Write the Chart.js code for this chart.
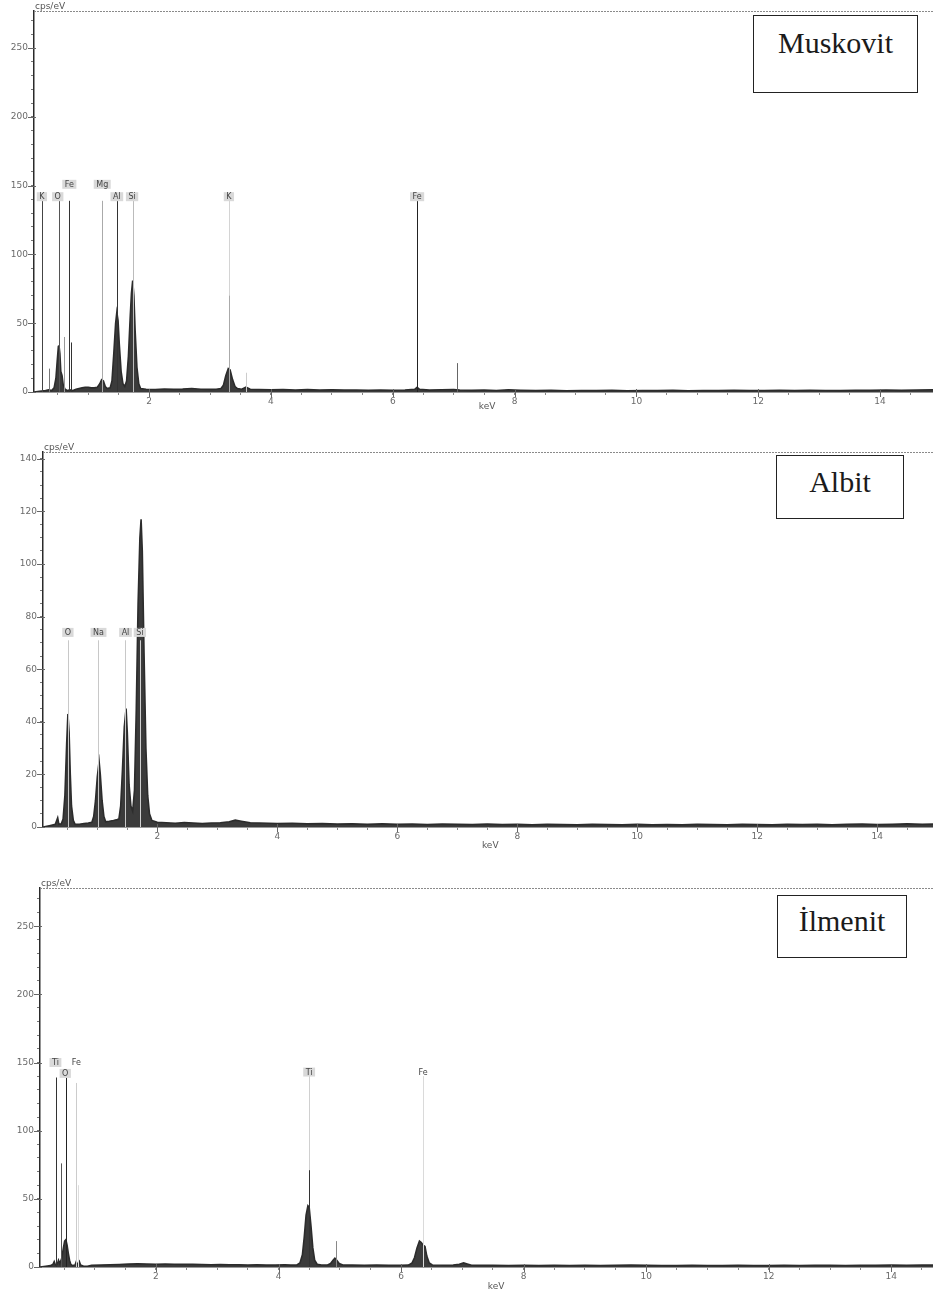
<!DOCTYPE html>
<html>
<head>
<meta charset="utf-8">
<script src="https://cdn.jsdelivr.net/npm/chart.js@4.4.1/dist/chart.umd.min.js"></script>
<style>
  html, body { margin: 0; padding: 0; background: #fff; }
  body { width: 933px; height: 1292px; position: relative; overflow: hidden; }
  .panel { position: absolute; left: 0; width: 933px; }
  .tag {
    position: absolute; box-sizing: border-box; border: 1.5px solid #222; background: #fff;
    font-family: 'Liberation Serif', 'Times New Roman', serif; font-size: 30px; line-height: 30px;
    color: #1b1b1b; text-align: center;
  }
</style>
</head>
<body>
<div class="panel" style="top:0;height:420px"><canvas id="musk"></canvas></div>
<div class="panel" style="top:420px;height:435px"><canvas id="albit"></canvas></div>
<div class="panel" style="top:860px;height:432px"><canvas id="ilm"></canvas></div>

<div class="tag" style="left:753px;top:15px;width:165px;height:78px;padding-top:12px">Muskovit</div>
<div class="tag" style="left:776px;top:455px;width:128px;height:64px;padding-top:11px">Albit</div>
<div class="tag" style="left:777px;top:895px;width:130px;height:63px;padding-top:10px">İlmenit</div>

<script>
// --- spectrum data: [keV, cps/eV] ---
const muskSpectrum = [
  [0.11, 0], [0.20, 0.5], [0.30, 1], [0.35, 1.5], [0.40, 1], [0.44, 3], [0.47, 10], [0.49, 22],
  [0.51, 33], [0.52, 34], [0.535, 28], [0.55, 15], [0.57, 12], [0.59, 5], [0.62, 2], [0.66, 1],
  [0.70, 1.5], [0.74, 1], [0.80, 2], [0.85, 2.5], [0.90, 3], [0.95, 3.5], [1.00, 3.5], [1.05, 3],
  [1.10, 3], [1.15, 3.5], [1.19, 6], [1.22, 9], [1.25, 8], [1.28, 4], [1.31, 2.5], [1.36, 3],
  [1.39, 8], [1.42, 28], [1.45, 50], [1.47, 58], [1.49, 52], [1.51, 35], [1.54, 15], [1.57, 6],
  [1.60, 4], [1.63, 8], [1.66, 26], [1.69, 55], [1.71, 72], [1.73, 81], [1.75, 70], [1.77, 45],
  [1.80, 18], [1.83, 6], [1.86, 2.5], [1.95, 2], [2.10, 1.8], [2.25, 2.2], [2.40, 1.9], [2.55, 2.1],
  [2.70, 2.5], [2.85, 2], [3.00, 1.9], [3.10, 2], [3.18, 2.5], [3.22, 5], [3.26, 12], [3.30, 17],
  [3.33, 16], [3.37, 9], [3.41, 4], [3.45, 2.5], [3.52, 2], [3.59, 3.5], [3.66, 2], [3.80, 1.8],
  [4.00, 1.6], [4.20, 1.8], [4.40, 1.5], [4.60, 1.7], [4.80, 1.4], [5.00, 1.6], [5.20, 1.4],
  [5.40, 1.5], [5.60, 1.3], [5.80, 1.5], [6.00, 1.3], [6.20, 1.5], [6.36, 2], [6.40, 3.5],
  [6.44, 2], [6.60, 1.4], [6.80, 1.6], [7.00, 1.8], [7.10, 1.5], [7.30, 1.2], [7.50, 1.4],
  [7.70, 1.1], [7.90, 1.6], [8.10, 1.3], [8.35, 1.0], [8.60, 1.2], [8.85, 0.9], [9.10, 1.1],
  [9.35, 1.0], [9.60, 1.2], [9.85, 0.9], [10.10, 1.1], [10.35, 1.0], [10.60, 1.2], [10.85, 0.9],
  [11.10, 1.1], [11.35, 1.0], [11.60, 1.2], [11.85, 1.0], [12.10, 1.1], [12.35, 1.3], [12.60, 1.0],
  [12.85, 1.2], [13.10, 1.1], [13.35, 1.0], [13.60, 1.3], [13.85, 1.2], [14.10, 1.4], [14.35, 1.2],
  [14.60, 1.5], [14.87, 1.6]
];

const albitSpectrum = [
  [0.095, 0], [0.20, 0.5], [0.30, 1], [0.34, 3.5], [0.36, 1], [0.40, 1.2], [0.43, 3], [0.46, 12],
  [0.49, 32], [0.51, 43], [0.53, 36], [0.55, 20], [0.57, 8], [0.60, 2.5], [0.63, 1], [0.70, 1],
  [0.78, 1.3], [0.85, 1.5], [0.91, 1.8], [0.94, 4], [0.97, 10], [1.00, 19], [1.03, 25], [1.05, 20],
  [1.08, 10], [1.11, 4], [1.14, 2], [1.20, 2.2], [1.27, 2.5], [1.33, 2.8], [1.36, 3], [1.39, 8],
  [1.42, 22], [1.45, 38], [1.48, 45], [1.50, 36], [1.53, 16], [1.56, 8], [1.59, 6], [1.62, 14],
  [1.65, 45], [1.68, 85], [1.71, 110], [1.73, 117], [1.75, 105], [1.78, 65], [1.81, 30], [1.84, 12],
  [1.87, 5], [1.91, 2.5], [2.00, 1.8], [2.15, 1.6], [2.30, 1.4], [2.45, 1.7], [2.60, 1.5],
  [2.75, 1.3], [2.90, 1.5], [3.05, 1.6], [3.20, 2.0], [3.30, 2.6], [3.40, 2.2], [3.55, 1.6],
  [3.70, 1.5], [3.85, 1.4], [4.00, 1.3], [4.25, 1.4], [4.50, 1.2], [4.75, 1.3], [5.00, 1.1],
  [5.25, 1.2], [5.50, 1.0], [5.75, 1.2], [6.00, 1.0], [6.25, 1.1], [6.50, 0.9], [6.75, 1.1],
  [7.00, 1.0], [7.25, 0.9], [7.50, 1.1], [7.75, 0.9], [8.00, 1.0], [8.25, 0.8], [8.50, 1.0],
  [8.75, 0.9], [9.00, 0.8], [9.25, 1.0], [9.50, 0.9], [9.75, 0.8], [10.00, 1.0], [10.25, 0.8],
  [10.50, 0.9], [10.75, 0.8], [11.00, 1.0], [11.25, 0.9], [11.50, 0.8], [11.75, 1.0], [12.00, 0.9],
  [12.25, 0.8], [12.50, 1.0], [12.75, 0.9], [13.00, 1.0], [13.25, 0.8], [13.50, 1.0], [13.75, 1.1],
  [14.00, 0.9], [14.25, 1.0], [14.50, 1.2], [14.75, 1.0], [14.93, 1.1]
];

const ilmSpectrum = [
  [0.108, 0], [0.20, 0.5], [0.28, 1], [0.32, 2], [0.34, 4], [0.36, 1.5], [0.39, 2], [0.41, 5],
  [0.43, 2.5], [0.46, 6], [0.49, 14], [0.51, 19], [0.53, 20], [0.55, 16], [0.57, 10], [0.59, 5],
  [0.61, 2], [0.64, 1], [0.68, 1.5], [0.70, 4], [0.72, 1.5], [0.75, 4], [0.77, 1.5], [0.82, 0.5],
  [0.88, 0.6], [0.95, 1.2], [1.10, 1.4], [1.25, 1.6], [1.40, 1.8], [1.55, 2.1], [1.70, 2.3],
  [1.85, 2.2], [2.00, 2.0], [2.15, 2.2], [2.30, 2.0], [2.45, 1.9], [2.60, 2.0], [2.75, 1.8],
  [2.90, 1.7], [3.05, 1.8], [3.20, 1.6], [3.35, 1.7], [3.50, 1.5], [3.65, 1.6], [3.80, 1.4],
  [3.95, 1.5], [4.10, 1.6], [4.20, 1.4], [4.30, 1.5], [4.35, 3], [4.39, 9], [4.42, 22], [4.45, 38],
  [4.48, 45], [4.50, 44], [4.53, 30], [4.56, 14], [4.59, 5], [4.63, 2], [4.70, 1.5], [4.80, 1.5],
  [4.85, 2.5], [4.89, 5], [4.92, 6.5], [4.95, 5], [4.99, 2.5], [5.05, 1.5], [5.20, 1.4],
  [5.40, 1.3], [5.60, 1.4], [5.80, 1.2], [6.00, 1.3], [6.12, 1.4], [6.18, 3], [6.22, 7], [6.26, 14],
  [6.30, 19], [6.33, 18], [6.36, 16], [6.39, 15], [6.42, 8], [6.46, 3], [6.51, 1.5], [6.70, 1.3],
  [6.85, 1.4], [6.95, 2], [7.02, 3], [7.08, 2.2], [7.15, 1.3], [7.30, 1.2], [7.50, 1.3], [7.75, 1.1],
  [8.00, 1.2], [8.25, 1.0], [8.50, 1.2], [8.75, 1.1], [9.00, 1.3], [9.25, 1.1], [9.50, 1.2],
  [9.75, 1.4], [10.00, 1.2], [10.25, 1.1], [10.50, 1.0], [10.75, 1.2], [11.00, 1.1], [11.25, 1.0],
  [11.50, 1.2], [11.75, 1.1], [12.00, 1.0], [12.25, 1.2], [12.50, 1.1], [12.75, 1.3], [13.00, 1.2],
  [13.25, 1.1], [13.50, 1.3], [13.75, 1.2], [14.00, 1.4], [14.25, 1.3], [14.50, 1.5], [14.68, 1.4]
];

// element line markers: energy (keV), height (cps/eV), stroke
const muskLineE    = [0.24, 0.35, 0.52, 0.60, 0.69, 0.71, 1.23, 1.47, 1.73, 3.31, 3.31, 3.59, 6.40, 7.05];
const muskLineTop  = [139, 17, 139, 40, 139, 36, 139, 139, 139, 139, 70, 14, 139, 21];
const muskLineInk  = ['#444', '#777', '#555', '#999', '#333', '#333', '#aaa', '#333', '#bbb', '#d4d4d4', '#aaa', '#ccc', '#222', '#666'];

const albitLineE   = [0.51, 1.02, 1.47, 1.71];
const albitLineTop = [71, 71, 71, 71];
const albitLineInk = ['#c8c8c8', '#c8c8c8', '#c8c8c8', '#d0d0d0'];

const ilmLineE     = [0.37, 0.45, 0.525, 0.70, 0.73, 4.50, 4.50, 4.93, 6.36];
const ilmLineTop   = [139, 76, 139, 135, 60, 140, 71, 19, 140];
const ilmLineInk   = ['#333', '#555', '#222', '#ccc', '#ddd', '#d0d0d0', '#333', '#888', '#dadada'];

// element labels: text, energy, level (cps/eV), boxed
const muskLabels   = ['K', 'O', 'Fe', 'Mg', 'Al', 'Si', 'K', 'Fe'];
const muskLabelE   = [0.24, 0.50, 0.69, 1.23, 1.47, 1.72, 3.31, 6.40];
const muskLabelY   = [142, 142, 151, 151, 142, 142, 142, 142];
const muskLabelBox = [true, true, true, true, true, true, true, true];

const albitLabels   = ['O', 'Na', 'Al', 'Si'];
const albitLabelE   = [0.51, 1.02, 1.47, 1.71];
const albitLabelY   = [74, 74, 74, 74];
const albitLabelBox = [true, true, true, true];

const ilmLabels   = ['Ti', 'O', 'Fe', 'Ti', 'Fe'];
const ilmLabelE   = [0.36, 0.52, 0.70, 4.50, 6.36];
const ilmLabelY   = [150, 142, 150, 143, 143];
const ilmLabelBox = [true, true, false, true, false];

// axis tick labels
const xTickLabels     = [2, 4, 6, 8, 10, 12, 14];
const muskYLabels     = [0, 50, 100, 150, 200, 250];
const albitYLabels    = [0, 20, 40, 60, 80, 100, 120, 140];
const ilmYLabels      = [0, 50, 100, 150, 200, 250];

const panels = {
  musk: {
    spectrum: muskSpectrum, yLabels: muskYLabels, yMinor: 10,
    xMin: 0.11, xMax: 14.87, yMax: 277, left: 34, top: 11, axisH: 28,
    lineE: muskLineE, lineTop: muskLineTop, lineInk: muskLineInk,
    labels: muskLabels, labelE: muskLabelE, labelY: muskLabelY, labelBox: muskLabelBox,
    kevOffset: 14
  },
  albit: {
    spectrum: albitSpectrum, yLabels: albitYLabels, yMinor: 5,
    xMin: 0.095, xMax: 14.93, yMax: 142.6, left: 43, top: 32, axisH: 28,
    lineE: albitLineE, lineTop: albitLineTop, lineInk: albitLineInk,
    labels: albitLabels, labelE: albitLabelE, labelY: albitLabelY, labelBox: albitLabelBox,
    kevOffset: 18
  },
  ilm: {
    spectrum: ilmSpectrum, yLabels: ilmYLabels, yMinor: 10,
    xMin: 0.108, xMax: 14.68, yMax: 278, left: 40, top: 28, axisH: 25,
    lineE: ilmLineE, lineTop: ilmLineTop, lineInk: ilmLineInk,
    labels: ilmLabels, labelE: ilmLabelE, labelY: ilmLabelY, labelBox: ilmLabelBox,
    kevOffset: 19
  }
};

const tickFont = { family: "'DejaVu Sans', sans-serif", size: 9 };

// marker lines, element tags, dotted frame top, long major ticks, unit labels
const edsOverlay = {
  id: 'edsOverlay',
  afterDatasetsDraw(chart) {
    const p = panels[chart.canvas.id];
    const { ctx, chartArea: a, scales: { x, y } } = chart;
    ctx.save();

    // dotted top frame
    ctx.strokeStyle = '#8a8a8a';
    ctx.lineWidth = 1;
    ctx.setLineDash([2, 1]);
    ctx.beginPath();
    ctx.moveTo(a.left, a.top + 0.5);
    ctx.lineTo(a.right, a.top + 0.5);
    ctx.stroke();
    ctx.setLineDash([]);

    // element line markers
    p.lineE.forEach((e, i) => {
      const px = Math.round(x.getPixelForValue(e)) + 0.5;
      ctx.strokeStyle = p.lineInk[i];
      ctx.beginPath();
      ctx.moveTo(px, y.getPixelForValue(0));
      ctx.lineTo(px, y.getPixelForValue(p.lineTop[i]));
      ctx.stroke();
    });

    // element tags
    ctx.font = "8px 'DejaVu Sans', sans-serif";
    ctx.textAlign = 'center';
    ctx.textBaseline = 'middle';
    p.labels.forEach((t, i) => {
      const px = x.getPixelForValue(p.labelE[i]);
      const py = y.getPixelForValue(p.labelY[i]);
      const w = ctx.measureText(t).width + 5;
      if (p.labelBox[i]) {
        ctx.fillStyle = '#d9d9d9';
        ctx.fillRect(px - w / 2, py - 4.5, w, 9);
      }
      ctx.fillStyle = '#444';
      ctx.fillText(t, px, py + 0.5);
    });

    // longer marks on labelled ticks
    ctx.strokeStyle = '#666';
    y.ticks.forEach(t => {
      if (!p.yLabels.includes(t.value)) return;
      const py = Math.round(y.getPixelForValue(t.value)) + 0.5;
      ctx.beginPath();
      ctx.moveTo(a.left - 6, py);
      ctx.lineTo(a.left + 2, py);
      ctx.stroke();
    });
    x.ticks.forEach(t => {
      if (!xTickLabels.includes(t.value)) return;
      const px = Math.round(x.getPixelForValue(t.value)) + 0.5;
      ctx.beginPath();
      ctx.moveTo(px, a.bottom - 3);
      ctx.lineTo(px, a.bottom + 5);
      ctx.stroke();
    });

    // unit labels
    ctx.fillStyle = '#555';
    ctx.font = "9px 'DejaVu Sans', sans-serif";
    ctx.textAlign = 'left';
    ctx.textBaseline = 'alphabetic';
    ctx.fillText('cps/eV', a.left + 1, a.top - 2);
    ctx.textAlign = 'center';
    ctx.fillText('keV', x.getPixelForValue(7.55), a.bottom + p.kevOffset + 3);

    ctx.restore();
  }
};

function drawSpectrum(id) {
  const p = panels[id];
  new Chart(document.getElementById(id), {
    type: 'line',
    data: {
      datasets: [{
        data: p.spectrum.map(([e, c]) => ({ x: e, y: c })),
        fill: 'origin',
        backgroundColor: '#3b3b3b',
        borderColor: '#2c2c2c',
        borderWidth: 1.6,
        pointRadius: 0,
        tension: 0
      }]
    },
    options: {
      responsive: true,
      maintainAspectRatio: false,
      animation: false,
      events: [],
      layout: { padding: { top: p.top, right: 0, left: 0, bottom: 0 } },
      plugins: { legend: { display: false }, tooltip: { enabled: false } },
      scales: {
        x: {
          type: 'linear', min: p.xMin, max: p.xMax,
          afterBuildTicks: s => {
            const ticks = [];
            for (let v = 0.5; v <= p.xMax; v += 0.5) ticks.push({ value: v });
            s.ticks = ticks;
          },
          afterFit: s => { s.height = p.axisH; },
          ticks: {
            autoSkip: false, maxRotation: 0, padding: 1,
            color: '#6a6a6a', font: tickFont,
            callback: v => xTickLabels.includes(v) ? String(v) : ''
          },
          grid: { drawOnChartArea: false, drawTicks: true, tickLength: 3, color: '#888' },
          border: { display: true, color: '#9a9a9a', width: 1, dash: [1, 1] }
        },
        y: {
          type: 'linear', min: 0, max: p.yMax,
          afterBuildTicks: s => {
            const ticks = [];
            for (let v = 0; v <= p.yMax; v += p.yMinor) ticks.push({ value: v });
            s.ticks = ticks;
          },
          afterFit: s => { s.width = p.left; },
          ticks: {
            autoSkip: false, padding: 3,
            color: '#6a6a6a', font: tickFont,
            callback: v => p.yLabels.includes(v) ? String(v) : ''
          },
          grid: { drawOnChartArea: false, drawTicks: true, tickLength: 3, color: '#777' },
          border: { display: true, color: '#2a2a2a', width: 1.5 }
        }
      }
    },
    plugins: [edsOverlay]
  });
}

drawSpectrum('musk');
drawSpectrum('albit');
drawSpectrum('ilm');
</script>
</body>
</html>
